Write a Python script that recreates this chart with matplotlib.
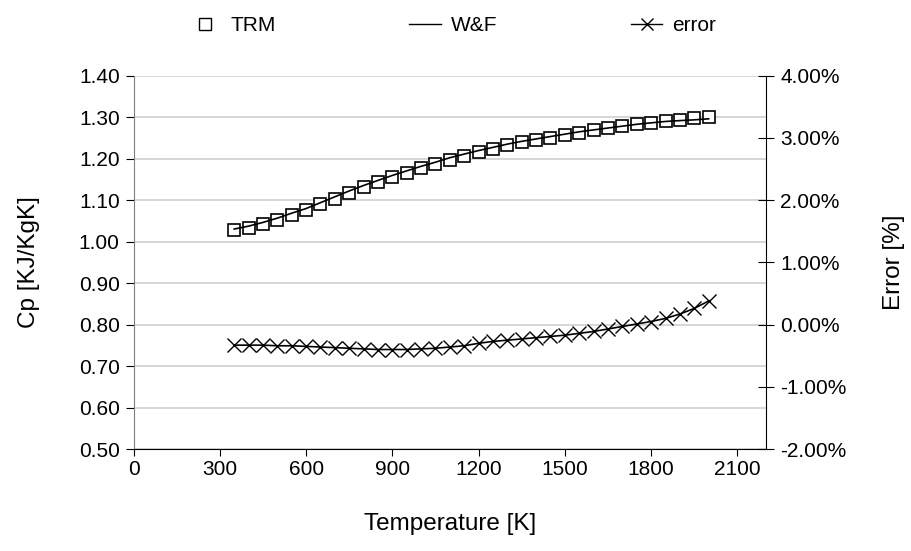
import matplotlib.pyplot as plt
from matplotlib.lines import Line2D
from matplotlib.ticker import FuncFormatter

plt.rcParams['font.family'] = ['Liberation Sans', 'DejaVu Sans']

# temperature [K]
temp = [350, 400, 450, 500, 550, 600, 650, 700, 750, 800, 850, 900,
        950, 1000, 1050, 1100, 1150, 1200, 1250, 1300, 1350, 1400, 1450,
        1500, 1550, 1600, 1650, 1700, 1750, 1800, 1850, 1900, 1950, 2000]

# Cp from TRM
cp_trm = [1.027, 1.034, 1.043, 1.053, 1.065, 1.076, 1.090, 1.104, 1.118,
          1.131, 1.143, 1.155, 1.166, 1.177, 1.187, 1.198, 1.207, 1.216,
          1.224, 1.232, 1.239, 1.245, 1.251, 1.257, 1.263, 1.268, 1.273,
          1.278, 1.283, 1.287, 1.291, 1.294, 1.297, 1.301]

# Cp from W&F
cp_wf = [1.0304, 1.0374, 1.0464, 1.0566, 1.0686, 1.0798, 1.0939, 1.1081,
         1.1222, 1.1354, 1.1476, 1.1596, 1.1707, 1.1816, 1.1915, 1.2023,
         1.2111, 1.2196, 1.2273, 1.2351, 1.2418, 1.2476, 1.2534, 1.2591,
         1.2648, 1.2694, 1.2739, 1.2784, 1.2829, 1.2864, 1.2897, 1.2918,
         1.2936, 1.2961]

# error [%]
error = [-0.33, -0.33, -0.33, -0.34, -0.34, -0.35, -0.36, -0.37, -0.38,
         -0.39, -0.40, -0.40, -0.40, -0.39, -0.38, -0.36, -0.34, -0.30,
         -0.27, -0.25, -0.23, -0.21, -0.19, -0.17, -0.14, -0.11, -0.07,
         -0.03, 0.01, 0.05, 0.10, 0.17, 0.26, 0.38]

fig = plt.figure(figsize=(9.11, 5.51), dpi=100)
ax = fig.add_axes([0.1466, 0.185, 0.6944, 0.6776])
ax2 = ax.twinx()

ax.plot(temp, cp_trm, linestyle='none', marker='s', markersize=8,
        markerfacecolor='white', markeredgecolor='black', markeredgewidth=1.2,
        zorder=3)
ax.plot(temp, cp_wf, color='black', linewidth=1.2, zorder=4)
ax2.plot(temp, error, color='black', linewidth=1.2, marker='x',
         markersize=9.5, markeredgewidth=1.0)

ax.set_xlim(0, 2200)
ax.set_ylim(0.5, 1.4)
ax2.set_ylim(-2, 4)
ax.set_xticks(range(0, 2101, 300))
ax.set_yticks([0.5 + 0.1 * i for i in range(10)])
ax2.set_yticks(range(-2, 5))
ax.yaxis.set_major_formatter(FuncFormatter(lambda v, p: '%.2f' % v))
ax2.yaxis.set_major_formatter(FuncFormatter(lambda v, p: '%.2f%%' % v))

ax.grid(axis='y', color='#d0d0d0', linewidth=1.2)
ax.set_axisbelow(True)

for s in ['top', 'right']:
    ax.spines[s].set_visible(False)
for s in ['top', 'left', 'bottom']:
    ax2.spines[s].set_visible(False)
ax.spines['left'].set_color('#808080')
ax.spines['bottom'].set_color('black')
ax2.spines['right'].set_color('black')

ax.tick_params(axis='y', direction='out', length=6, color='black',
               labelsize=15, pad=4)
ax.tick_params(axis='x', direction='out', length=5, labelsize=15, pad=3)
ax2.tick_params(axis='y', direction='inout', length=12, labelsize=15, pad=4)

ax.set_xlabel('Temperature [K]', fontsize=17.5, labelpad=24)
ax.set_ylabel('Cp [KJ/KgK]', fontsize=17.5, labelpad=28)
ax2.set_ylabel('Error [%]', fontsize=17.5, labelpad=26)

handles = [
    Line2D([], [], linestyle='none', marker='s', markersize=8,
           markerfacecolor='white', markeredgecolor='black'),
    Line2D([], [], color='black', linewidth=1.0),
    Line2D([], [], color='black', linewidth=1.0, marker='x', markersize=9),
]
fig.legend(handles, ['TRM', 'W&F', 'error'], loc='upper center',
           bbox_to_anchor=(0.497, 1.005), ncol=3, frameon=False, fontsize=15,
           handlelength=1.5, handletextpad=0.5, columnspacing=6.4)

fig.savefig('out.png', dpi=100)
